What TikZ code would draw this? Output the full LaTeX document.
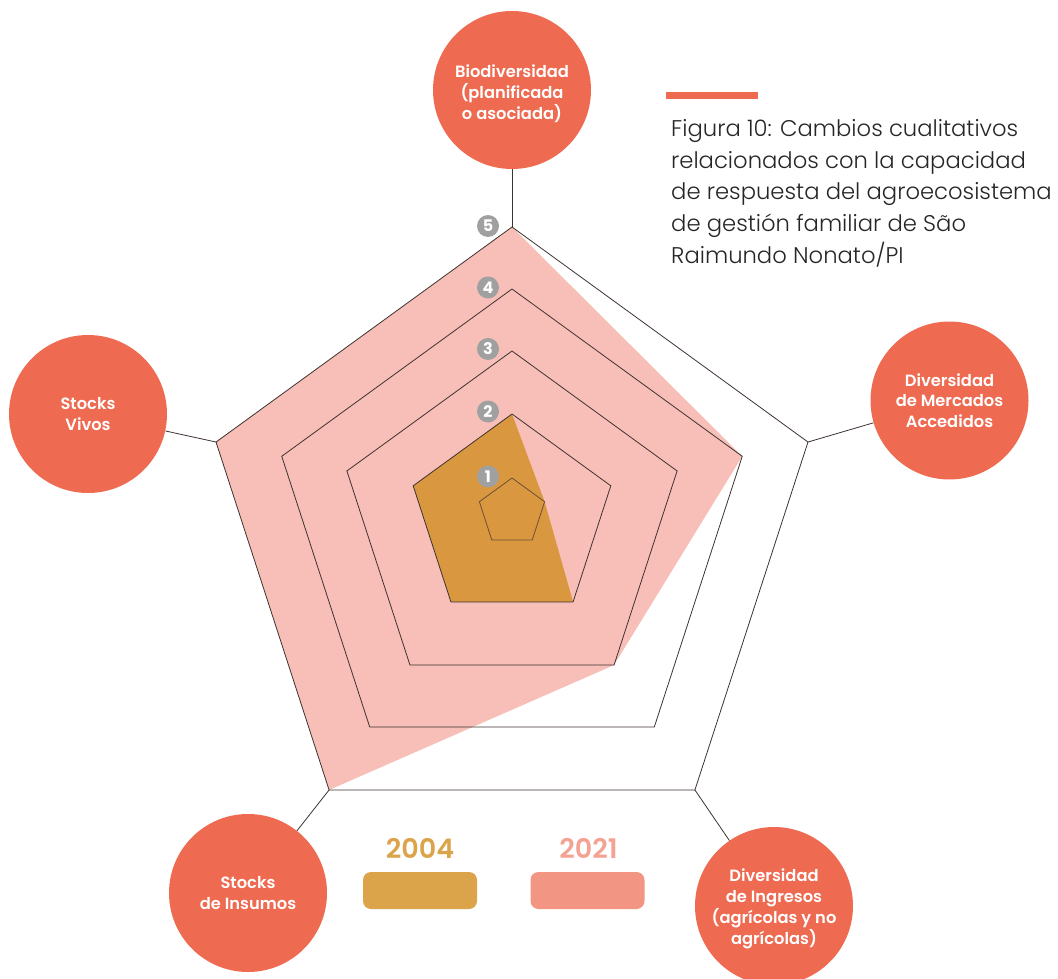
\documentclass[tikz,border=0pt]{standalone}
\usepackage{fontspec}
\setmainfont{Poppins}[BoldFont={Poppins SemiBold}]
\newfontfamily\lightfont{Poppins Light}
\newfontfamily\heavyfont{Poppins Bold}
\definecolor{circ}{HTML}{EE6A51}
\definecolor{pinkfill}{HTML}{F7BFB7}
\definecolor{orangefill}{HTML}{D9973F}
\definecolor{leg04}{HTML}{DBA44B}
\definecolor{leg21}{HTML}{F29683}
\definecolor{leg21t}{HTML}{F3A293}
\definecolor{gridline}{HTML}{3D3330}
\definecolor{badge}{HTML}{A0A0A0}
\tikzset{
  catcircle/.style={circle, fill=circ, minimum size=158pt, inner sep=0pt},
  cattext/.style={text=white, inner sep=0pt,
    font=\bfseries\fontsize{16.3}{20.8}\selectfont, align=center},
  levelbadge/.style={circle, fill=badge, minimum size=22pt, inner sep=0pt, text=white,
    font=\heavyfont\fontsize{16}{16}\selectfont},
  gridpent/.style={draw=gridline, line width=0.8pt, line join=miter},
  axisline/.style={draw=gridline, line width=0.8pt},
  legbar/.style={rounded corners=8pt, minimum width=114pt, minimum height=37pt, inner sep=0pt},
}
\begin{document}
\begin{tikzpicture}[x=1pt,y=-1pt]
\useasboundingbox (0,0) rectangle (1058,979);
% pentagon vertices per level
\foreach \k/\R/\c in {1/34.3/512.3, 2/103.9/517.9, 3/173.6/524.6, 4/242.1/531.1, 5/311.2/538.2}{
  \foreach \i/\a in {1/90, 2/18, 3/-54, 4/-126, 5/162}{
    \coordinate (p\k-\i) at ({512+\R*cos(\a)}, {\c-\R*sin(\a)});
  }
}
% data polygons
\fill[pinkfill] (p5-1) -- (p4-2) -- (p3-3) -- (p5-4) -- (p5-5) -- cycle;
\fill[orangefill] (p2-1) -- (p1-2) -- (p2-3) -- (p2-4) -- (p2-5) -- cycle;
% grid
\foreach \k in {2,3,4,5}{
  \draw[gridpent] (p\k-1) -- (p\k-2) -- (p\k-3) -- (p\k-4) -- (p\k-5) -- cycle;
}
\draw[gridpent, draw=gridline!70!orangefill] (p1-1) -- (p1-2) -- (p1-3) -- (p1-4) -- (p1-5) -- cycle;
% category circles
\node[catcircle, label={[cattext, yshift=-4pt]center:{Biodiversidad\\(planificada\\o asociada)}}] (bio) at (512,90) {};
\node[catcircle, label={[cattext]center:{Diversidad\\de Mercados\\Accedidos}}] (merc) at (949.5,400.5) {};
\node[catcircle, label={[cattext, yshift=-3pt]center:{Diversidad\\de Ingresos\\(agrícolas y no\\agrícolas)}}] (ingr) at (774,906) {};
\node[catcircle, label={[cattext]center:{Stocks\\de Insumos}}] (insu) at (248,893) {};
\node[catcircle, label={[cattext]center:{Stocks\\Vivos}}] (vivo) at (88,414) {};
% axis lines
\draw[axisline] (p5-1) -- (bio);
\draw[axisline] (p5-2) -- (merc);
\draw[axisline] (p5-3) -- (ingr);
\draw[axisline] (p5-4) -- (insu);
\draw[axisline] (p5-5) -- (vivo);
% level badges
\node[levelbadge] (b5) at (488,226) {5};
\node[levelbadge] (b4) at (488,287.5) {4};
\node[levelbadge] (b3) at (488,349) {3};
\node[levelbadge] (b2) at (488,411.5) {2};
\node[levelbadge] (b1) at (488,476.5) {1};
% title
\fill[circ] (666,92) rectangle (758,99);
\node[anchor=north west, inner sep=0pt, align=left, text=black!85,
  font=\lightfont\fontsize{22.7}{31.8}\selectfont] (title) at (671,119)
  {Figura 10: Cambios cualitativos\\relacionados con la capacidad\\de respuesta del agroecosistema\\de gestión familiar de São\\Raimundo Nonato/PI};
% legend
\node[text=leg04, font=\bfseries\fontsize{27}{27}\selectfont] (t04) at (420,848) {2004};
\node[text=leg21t, font=\bfseries\fontsize{27}{27}\selectfont] (t21) at (588.5,848) {2021};
\node[legbar, fill=leg04] (l04) at (420,890.5) {};
\node[legbar, fill=leg21] (l21) at (587.5,890.5) {};
\end{tikzpicture}
\end{document}
